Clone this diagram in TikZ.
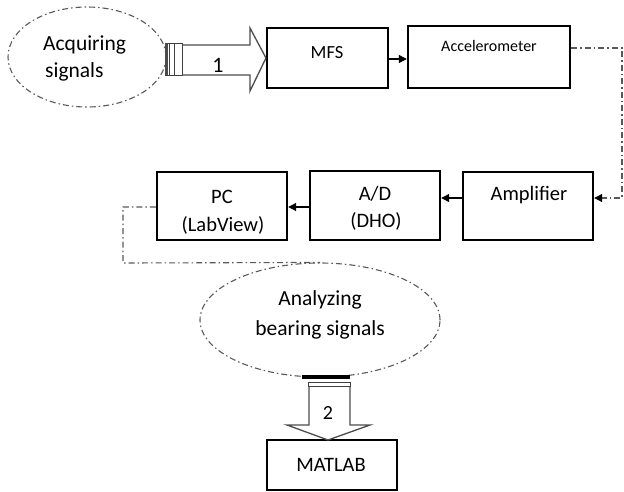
\documentclass[tikz,border=0pt]{standalone}
\usepackage{fontspec}
\setmainfont{Carlito}
\usetikzlibrary{arrows.meta,shapes.geometric}
\begin{document}
\begin{tikzpicture}[x=1pt,y=-1pt,
  box/.style={draw=black,line width=2.4pt,minimum width=#1,inner sep=0pt},
  box/.default=130pt,
  oval/.style={draw=black!65,line width=1.1pt,dash pattern=on 6pt off 3pt on 1.5pt off 3pt,ellipse,inner sep=0pt},
  dd/.style={draw=black!65,line width=1.1pt,dash pattern=on 6pt off 3pt on 1.5pt off 3pt},
  arr/.style={draw=black,line width=1.2pt,-{Triangle[length=8pt,width=8pt]}},
  ddarr/.style={dd,-{Triangle[length=8pt,width=8pt,color=black,fill=black]}},
  hollow/.style={draw=black!70,line width=1.3pt,fill=white,line join=miter},
  txt/.style={font=\fontsize{20.5}{24}\selectfont,inner sep=0pt},
  btxt/.style={font=\fontsize{21.5}{25}\selectfont,inner sep=0pt}]
\useasboundingbox (0,0) rectangle (624,491);
% ellipses
\node[oval,minimum width=158pt,minimum height=100pt] (acq) at (87,57) {};
\node[btxt,anchor=base west] (acqt1) at (43,50) {Acquiring};
\node[btxt,anchor=base west] (acqt2) at (45,77) {signals};
\node[oval,minimum width=240pt,minimum height=114pt] (ana) at (320,320) {};
\node[btxt] (anat1) at (320,300) {Analyzing};
\node[btxt] (anat2) at (320,330) {bearing signals};
% boxes
\node[box=121pt,minimum height=60pt] (mfs) at (327.5,58) {};
\node[txt,font=\fontsize{18.5}{22}\selectfont,anchor=base] (mfst) at (327,58) {MFS};
\node[box=162pt,minimum height=62pt] (acc) at (489,57) {};
\node[txt,font=\fontsize{16}{19}\selectfont,anchor=base] (acct) at (489,51) {Accelerometer};
\node[box,minimum height=68pt] (amp) at (528,206) {};
\node[txt,anchor=base] (ampt) at (529,200) {Amplifier};
\node[box,minimum height=69pt] (ad) at (375,205.5) {};
\node[txt,anchor=base] (adt1) at (375,200) {A/D};
\node[txt] (adt2) at (376,221) {(DHO)};
\node[box,minimum height=68pt] (pc) at (222,206) {};
\node[txt,anchor=base] (pct1) at (222,203) {PC};
\node[txt] (pct2) at (223,225) {(LabView)};
\node[box,minimum height=50pt] (mat) at (332,465) {};
\node[txt] (matt) at (331,465) {MATLAB};
% hollow arrow 1
\draw[hollow] (182,45) -- (250,45) -- (250,28) -- (266,58) -- (250,91) -- (250,75) -- (182,75);
\draw[draw=black!75,line width=1pt,fill=white] (165,43) rectangle (182,75);
\draw[draw=black!75,line width=1pt] (169,43) -- (169,75) (174,43) -- (174,75);
\fill[black!70] (165,43) rectangle (167.5,75);
\node[txt,font=\fontsize{22}{26}\selectfont,anchor=base] (one) at (218,72) {1};
% hollow arrow 2
\draw[hollow] (309,386) -- (309,425) -- (287,425) -- (328,440) -- (370,425) -- (350,425) -- (350,386);
\draw[draw=black!75,line width=1pt,fill=white] (308,382) rectangle (350,386.5);
\fill[black] (302,375) rectangle (350,378.5);
\node[txt,font=\fontsize{20}{24}\selectfont,anchor=base] (two) at (328,419) {2};
% connectors
\draw[arr] (mfs.east |- 0,59) -- (acc.west |- 0,59);
\draw[arr] (amp.west |- 0,198) -- (ad.east |- 0,198);
\draw[arr] (ad.west |- 0,207) -- (pc.east |- 0,207);
\draw[ddarr] (acc.east |- 0,48) -- (622,48) -- (622,198) -- (amp.east |- 0,198);
\draw[dd] (pc.west |- 0,207) -- (123,207) -- (123,263) -- (ana.north);
\end{tikzpicture}
\end{document}
